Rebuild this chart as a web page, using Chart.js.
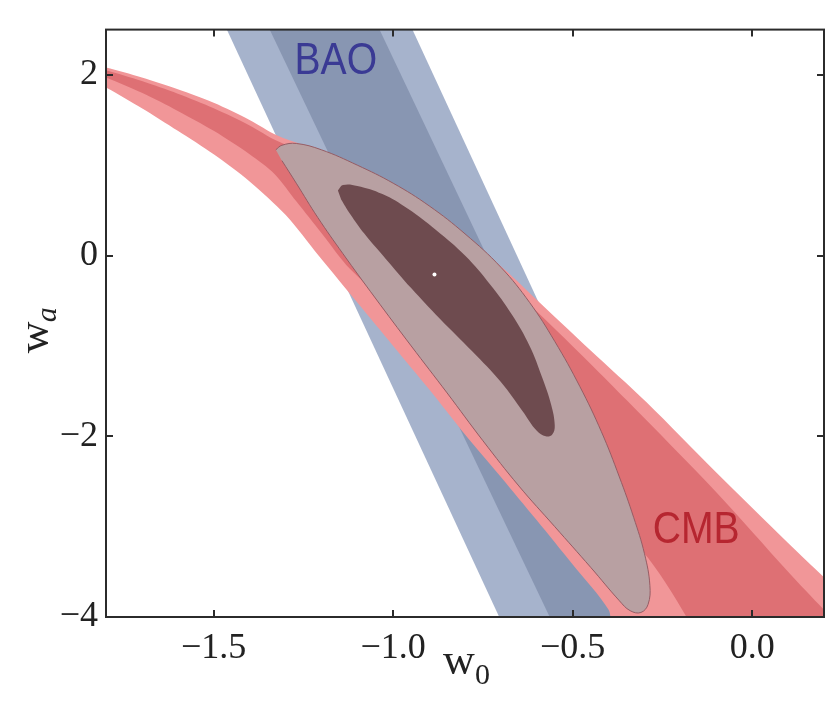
<!DOCTYPE html>
<html>
<head>
<meta charset="utf-8">
<script src="https://cdn.jsdelivr.net/npm/chart.js@4.4.1/dist/chart.umd.min.js"></script>
<style>
  html, body { margin: 0; padding: 0; background: #fff; }
</style>
</head>
<body>
<canvas id="chart" width="834" height="705"></canvas>
<script>
// axis ticks
const xTicks = [-1.5, -1.0, -0.5, 0.0];
const yTicks = [-4, -2, 0, 2];
const xTickLabels = ['\u22121.5', '\u22121.0', '\u22120.5', '0.0'];
const yTickLabels = ['\u22124', '\u22122', '0', '2'];

// BAO bands (w0, wa) polygons
const baoOuter = [[-1.475, 2.6], [-0.958, 2.6], [-0.178, -4.1], [-0.693, -4.1]];
const baoInner = [[-1.356, 2.6], [-1.050, 2.6], [-0.250, -4.1], [-0.552, -4.1]];

// CMB bands: upper edge left to right, then lower edge right to left
const cmbOuter = [
  [-1.85, 2.12], [-1.8, 2.08], [-1.7, 1.97], [-1.6, 1.84], [-1.5, 1.69], [-1.4, 1.50],
  [-1.324, 1.33], [-1.25, 1.22], [-1.177, 1.10], [-1.1, 0.97], [-1.0, 0.75], [-0.9, 0.50],
  [-0.8, 0.20], [-0.7, -0.12], [-0.616, -0.43], [-0.45, -1.05], [-0.295, -1.62], [-0.1, -2.40],
  [0.1, -3.18], [0.2, -3.56], [0.26, -3.80],
  [0.26, -4.2], [-0.38, -4.2], [-0.4, -3.92], [-0.5, -3.42], [-0.6, -2.93], [-0.7, -2.45],
  [-0.8, -1.98], [-0.9, -1.48], [-1.0, -1.0], [-1.1, -0.52], [-1.208, 0.0], [-1.3, 0.45],
  [-1.4, 0.82], [-1.5, 1.12], [-1.6, 1.38], [-1.7, 1.63], [-1.8, 1.86], [-1.85, 1.95]
];
const cmbInner = [
  [-1.85, 2.09], [-1.8, 2.05], [-1.7, 1.93], [-1.6, 1.79], [-1.5, 1.63], [-1.4, 1.44],
  [-1.324, 1.27], [-1.177, 1.03], [-1.0, 0.70], [-0.8, 0.12], [-0.6, -0.62], [-0.45, -1.2],
  [-0.35, -1.60], [-0.1, -2.62], [0.1, -3.50], [0.2, -3.92], [0.26, -4.15],
  [0.26, -4.2], [-0.17, -4.2], [-0.183, -4.0], [-0.306, -3.27], [-0.4, -3.0], [-0.55, -2.6],
  [-0.75, -1.8], [-0.92, -0.9], [-1.12, -0.15], [-1.2, 0.25], [-1.27, 0.6], [-1.33, 0.9],
  [-1.4, 1.12], [-1.5, 1.38], [-1.6, 1.60], [-1.7, 1.80], [-1.8, 1.97], [-1.85, 2.03]
];

// combined constraints
const combOuter = [
  [-1.327, 1.17], [-1.31, 1.22], [-1.27, 1.24], [-1.20, 1.17], [-1.10, 1.00], [-1.0, 0.80],
  [-0.90, 0.55], [-0.80, 0.24], [-0.70, -0.13], [-0.62, -0.52], [-0.55, -0.95], [-0.48, -1.45],
  [-0.42, -1.95], [-0.37, -2.45], [-0.33, -2.9], [-0.30, -3.3], [-0.285, -3.65], [-0.29, -3.86],
  [-0.31, -3.95], [-0.34, -3.93], [-0.37, -3.82], [-0.45, -3.45], [-0.55, -3.0], [-0.65, -2.55],
  [-0.75, -2.05], [-0.85, -1.52], [-0.95, -1.0], [-1.05, -0.47], [-1.14, 0.02], [-1.21, 0.42],
  [-1.27, 0.80], [-1.31, 1.05]
];
const combInner = [
  [-1.154, 0.72], [-1.14, 0.78], [-1.10, 0.77], [-1.03, 0.68], [-0.96, 0.52], [-0.88, 0.28],
  [-0.80, 0.0], [-0.73, -0.32], [-0.67, -0.65], [-0.62, -1.0], [-0.585, -1.35], [-0.56, -1.65],
  [-0.55, -1.88], [-0.557, -1.98], [-0.575, -2.0], [-0.60, -1.94], [-0.64, -1.72], [-0.70, -1.40],
  [-0.78, -1.06], [-0.87, -0.70], [-0.95, -0.36], [-1.02, -0.04], [-1.08, 0.24], [-1.12, 0.46],
  [-1.145, 0.62]
];
const bestFit = [[-0.885, -0.21]];

const bandLabels = [
  { text: 'BAO', at: [-1.16, 2.14], color: 'rgb(58,58,148)' },
  { text: 'CMB', at: [-0.156, -3.05], color: 'rgb(182,38,48)' }
];

const pts = arr => arr.map(p => ({ x: p[0], y: p[1] }));

function region(data, fillColor, order, opts) {
  const o = opts || {};
  return {
    data: pts(data),
    showLine: true,
    fill: 'shape',
    backgroundColor: fillColor,
    borderColor: o.border || fillColor,
    borderWidth: o.border ? 1 : 0,
    pointRadius: 0,
    tension: o.tension || 0,
    capBezierPoints: false,
    order: order
  };
}

const decor = {
  id: 'decor',
  afterDatasetsDraw(chart) {
    const { ctx, chartArea: a, scales: { x, y } } = chart;
    ctx.save();
    ctx.textAlign = 'center';
    ctx.textBaseline = 'middle';
    ctx.font = '44px "Liberation Sans", Arial, sans-serif';
    bandLabels.forEach(l => {
      ctx.save();
      ctx.translate(x.getPixelForValue(l.at[0]), y.getPixelForValue(l.at[1]));
      ctx.scale(0.89, 1);
      ctx.fillStyle = l.color;
      ctx.fillText(l.text, 0, 0);
      ctx.restore();
    });

    ctx.strokeStyle = '#2b2b2b';
    ctx.lineWidth = 2;
    ctx.strokeRect(a.left, a.top, a.right - a.left, a.bottom - a.top);
    ctx.beginPath();
    xTicks.forEach(v => {
      const px = Math.round(x.getPixelForValue(v));
      ctx.moveTo(px, a.bottom); ctx.lineTo(px, a.bottom - 7);
      ctx.moveTo(px, a.top); ctx.lineTo(px, a.top + 7);
    });
    yTicks.forEach(v => {
      const py = Math.round(y.getPixelForValue(v));
      ctx.moveTo(a.left, py); ctx.lineTo(a.left + 7, py);
      ctx.moveTo(a.right, py); ctx.lineTo(a.right - 7, py);
    });
    ctx.stroke();

    // axis titles
    ctx.fillStyle = '#222';
    ctx.textAlign = 'left';
    ctx.textBaseline = 'alphabetic';
    const cx = (a.left + a.right) / 2;
    ctx.font = '44px "Liberation Serif", "DejaVu Serif", serif';
    ctx.fillText('w', cx - 22, 674);
    ctx.font = '30px "Liberation Serif", "DejaVu Serif", serif';
    ctx.fillText('0', cx + 10, 684);

    ctx.translate(48, (a.top + a.bottom) / 2 + 30);
    ctx.rotate(-Math.PI / 2);
    ctx.font = '44px "Liberation Serif", "DejaVu Serif", serif';
    ctx.fillText('w', 0, 0);
    ctx.font = 'italic 30px "Liberation Serif", "DejaVu Serif", serif';
    ctx.fillText('a', 31, 8);
    ctx.restore();
  }
};

new Chart(document.getElementById('chart'), {
  type: 'scatter',
  data: {
    datasets: [
      { data: pts(bestFit), backgroundColor: '#ffffff', borderWidth: 0, pointRadius: 2, order: 0 },
      region(combInner, 'rgb(110,75,79)', 1, { tension: 0.4 }),
      region(combOuter, 'rgb(184,160,162)', 2, { tension: 0.4, border: 'rgb(150,92,100)' }),
      region(cmbInner, 'rgb(222,112,116)', 3, { tension: 0.3 }),
      region(cmbOuter, 'rgb(241,150,152)', 4, { tension: 0.3 }),
      region(baoInner, 'rgb(136,150,178)', 5),
      region(baoOuter, 'rgb(166,179,204)', 6)
    ]
  },
  options: {
    responsive: false,
    animation: false,
    layout: { padding: { top: 24, right: 10, left: 0, bottom: 0 } },
    plugins: { legend: { display: false }, tooltip: { enabled: false } },
    scales: {
      x: {
        type: 'linear', min: -1.8, max: 0.2,
        afterBuildTicks: s => { s.ticks = xTicks.map(v => ({ value: v })); },
        afterFit: s => { s.height = 88; },
        grid: { display: false, drawTicks: false },
        border: { display: false },
        ticks: {
          padding: 10,
          color: '#222',
          font: { family: '"Liberation Serif", "DejaVu Serif", serif', size: 36 },
          callback: (v) => xTickLabels[xTicks.indexOf(v)]
        }
      },
      y: {
        type: 'linear', min: -4, max: 2.5,
        afterBuildTicks: s => { s.ticks = yTicks.map(v => ({ value: v })); },
        afterFit: s => { s.width = 106; },
        grid: { display: false, drawTicks: false },
        border: { display: false },
        ticks: {
          padding: 8,
          color: '#222',
          font: { family: '"Liberation Serif", "DejaVu Serif", serif', size: 36 },
          callback: (v) => yTickLabels[yTicks.indexOf(v)]
        }
      }
    }
  },
  plugins: [decor]
});
</script>
</body>
</html>
